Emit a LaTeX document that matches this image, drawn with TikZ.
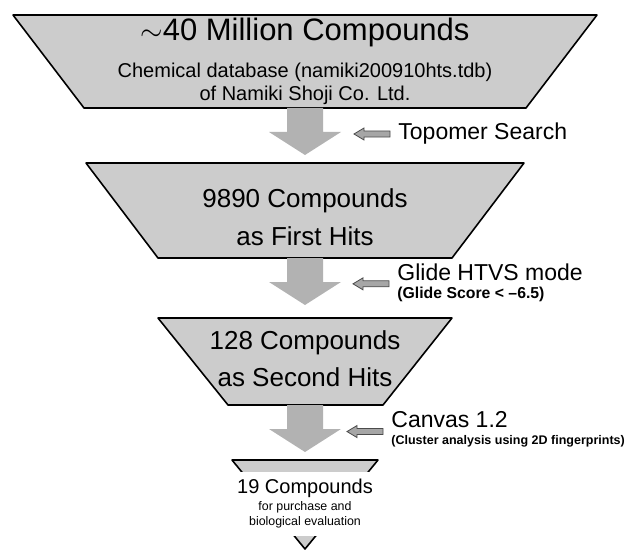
\documentclass[tikz,border=0pt]{standalone}
\usepackage{fontspec}
\setmainfont{Liberation Sans}
\usetikzlibrary{positioning,calc}

% block arrow between two stages, #1 = top of the shaft
\newcommand\funnelarrow[1]{%
  \fill[bigarrow, shift={(#1)}] (-18,0) -- (18,0) -- (18,24) -- (36,24)
  -- (0,47) -- (-36,24) -- (-18,24) -- cycle;}
% small arrow pointing at the funnel, #1 = right end
\newcommand\hintarrow[1]{%
  \filldraw[smallarrow, shift={(#1)}] (-8,-3) -- (-34,-3) -- (-34,-6)
  -- (-44,0) -- (-34,6) -- (-34,3) -- (-8,3) -- cycle;}

\begin{document}
\begin{tikzpicture}[x=0.5pt, y=-0.5pt,
    funnel/.style = {draw=black, line width=0.8pt, fill=black!20, line join=round},
    bigarrow/.style = {fill=black!30},
    smallarrow/.style = {draw=black!70, fill=black!35, line width=0.4pt},
    stage/.style = {align=center, inner sep=0pt},
    tool/.style = {anchor=west, inner sep=0pt, font=\fontsize{11.5}{13}\selectfont},
    toolnote/.style = {inner sep=0pt}
  ]
  \useasboundingbox (0,0) rectangle (626,551);

  % funnel pieces
  \draw[funnel] (13,15) -- (597,15) -- (526,108) -- (84,108) -- cycle;
  \draw[funnel] (86,163) -- (524,163) -- (452,258) -- (158,258) -- cycle;
  \draw[funnel] (158,318) -- (452,318) -- (383,405) -- (228,405) -- cycle;
  \draw[funnel] (232,460) -- (378,460) -- (305,549) -- cycle;

  \coordinate (out1) at (305,108);
  \coordinate (out2) at (305,258);
  \coordinate (out3) at (305,405);

  % stage texts
  \node[stage, font=\fontsize{15.5}{17}\selectfont] (total) at (305,32)
    {$\sim$40 Million Compounds};
  \node[stage, font=\fontsize{10}{11.5}\selectfont] (source) at (305,83.5)
    {Chemical database (namiki200910hts.tdb)\\of Namiki Shoji Co. Ltd.};
  \node[stage, font=\fontsize{13}{19}\selectfont] (hits1) at (305,217)
    {9890 Compounds\\as First Hits};
  \node[stage, font=\fontsize{13}{18.5}\selectfont] (hits2) at (305,359)
    {128 Compounds\\as Second Hits};
  \node[stage, fill=white, inner xsep=3pt, inner ysep=3.5pt, font=\fontsize{10}{10.5}\selectfont] (final) at (305,504)
    {19 Compounds\\[-2pt]{\fontsize{6.2}{7}\selectfont for purchase and}\\[-3pt]
     {\fontsize{6.2}{7}\selectfont biological evaluation}};

  \funnelarrow{out1}
  \funnelarrow{out2}
  \funnelarrow{out3}

  % screening steps
  \node[tool] (topomer) at (398,134) {Topomer Search};
  \node[tool] (glide) at (397,272) {Glide HTVS mode};
  \node[toolnote, font=\fontsize{7.9}{8.5}\selectfont\bfseries, below right=3pt and 0pt of glide.south west]
    (glidenote) {(Glide Score < –6.5)};
  \node[tool] (canvas) at (391,420) {Canvas 1.2};
  \node[toolnote, font=\fontsize{6.25}{7}\selectfont\bfseries, below right=3pt and 0pt of canvas.south west]
    (canvasnote) {(Cluster analysis using 2D fingerprints)};

  \hintarrow{topomer.west}
  \hintarrow{$(glide.south west)!0.5!(glidenote.north west)$}
  \hintarrow{$(canvas.south west)!0.5!(canvasnote.north west)$}
\end{tikzpicture}
\end{document}
